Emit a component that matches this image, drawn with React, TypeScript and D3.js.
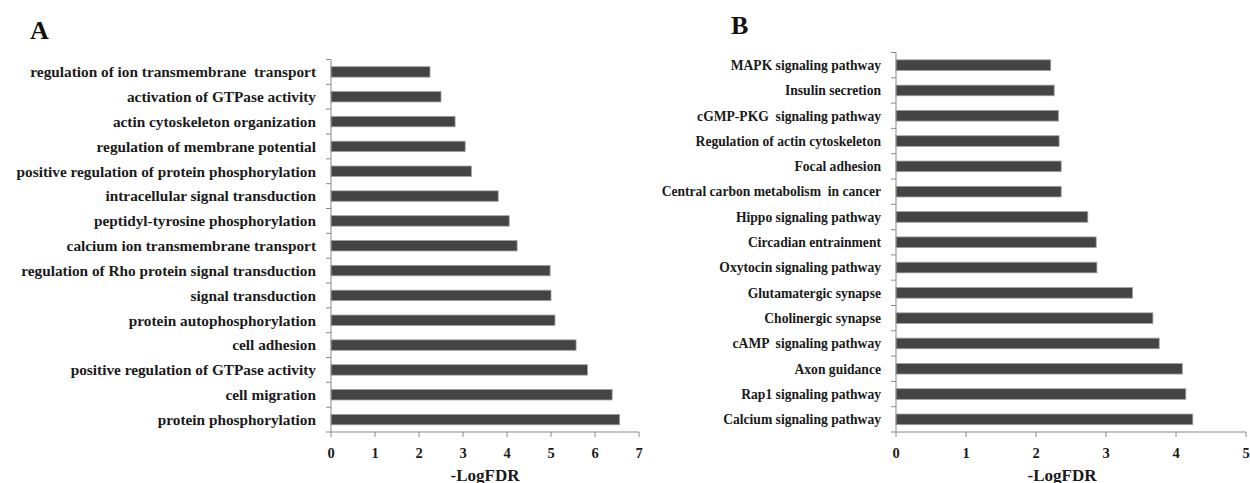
import React from "react";
import * as d3 from "d3";

const categoriesA = [
  "regulation of ion transmembrane  transport",
  "activation of GTPase activity",
  "actin cytoskeleton organization",
  "regulation of membrane potential",
  "positive regulation of protein phosphorylation",
  "intracellular signal transduction",
  "peptidyl-tyrosine phosphorylation",
  "calcium ion transmembrane transport",
  "regulation of Rho protein signal transduction",
  "signal transduction",
  "protein autophosphorylation",
  "cell adhesion",
  "positive regulation of GTPase activity",
  "cell migration",
  "protein phosphorylation",
];
const valuesA = [2.25, 2.5, 2.82, 3.05, 3.19, 3.8, 4.05, 4.23, 4.98, 5.0, 5.09, 5.57, 5.83, 6.39, 6.56];
const ticksA = [0, 1, 2, 3, 4, 5, 6, 7];

const categoriesB = [
  "MAPK signaling pathway",
  "Insulin secretion",
  "cGMP-PKG  signaling pathway",
  "Regulation of actin cytoskeleton",
  "Focal adhesion",
  "Central carbon metabolism  in cancer",
  "Hippo signaling pathway",
  "Circadian entrainment",
  "Oxytocin signaling pathway",
  "Glutamatergic synapse",
  "Cholinergic synapse",
  "cAMP  signaling pathway",
  "Axon guidance",
  "Rap1 signaling pathway",
  "Calcium signaling pathway",
];
const valuesB = [2.21, 2.26, 2.32, 2.33, 2.36, 2.36, 2.74, 2.86, 2.87, 3.38, 3.67, 3.76, 4.09, 4.14, 4.24];
const ticksB = [0, 1, 2, 3, 4, 5];

const axisTitle = "-LogFDR";
const FONT = "'Liberation Serif', 'Times New Roman', serif";
const AXIS_COLOR = "#8a8a8a";
const BAR_FILL = "#444444";
const BAR_STROKE = "#a0a0a0";

type PanelProps = {
  letter: string;
  letterX: number;
  letterY: number;
  categories: string[];
  values: number[];
  ticks: number[];
  x0: number;
  x1: number;
  y0: number;
  y1: number;
  labelSize: number;
  titleX: number;
};

function Panel(p: PanelProps) {
  const x = d3.scaleLinear().domain([p.ticks[0], p.ticks[p.ticks.length - 1]]).range([p.x0, p.x1]);
  const y = d3
    .scaleBand<string>()
    .domain(p.categories)
    .range([p.y0, p.y1])
    .paddingInner(0.58)
    .paddingOuter(0.29);
  const step = y.step();
  const boundaries = d3.range(p.categories.length + 1).map((i) => p.y0 + i * step);
  return (
    <g>
      <text x={p.letterX} y={p.letterY} fontFamily={FONT} fontWeight="bold" fontSize={26} fill="#111">
        {p.letter}
      </text>
      {p.categories.map((c, i) => (
        <rect
          key={c}
          x={x(0)}
          y={y(c)!}
          width={x(p.values[i]) - x(0)}
          height={y.bandwidth()}
          fill={BAR_FILL}
          stroke={BAR_STROKE}
          strokeWidth={0.8}
        />
      ))}
      <line x1={x(0)} x2={x(0)} y1={p.y0} y2={p.y1} stroke={AXIS_COLOR} strokeWidth={1} />
      <line x1={x(0)} x2={p.x1} y1={p.y1} y2={p.y1} stroke={AXIS_COLOR} strokeWidth={1} />
      {boundaries.map((b, i) => (
        <line key={i} x1={x(0) - 5} x2={x(0)} y1={b} y2={b} stroke={AXIS_COLOR} strokeWidth={1} />
      ))}
      {p.ticks.map((t) => (
        <g key={t}>
          <line x1={x(t)} x2={x(t)} y1={p.y1} y2={p.y1 + 5} stroke={AXIS_COLOR} strokeWidth={1} />
          <text
            x={x(t)}
            y={p.y1 + 26}
            textAnchor="middle"
            fontFamily={FONT}
            fontWeight="bold"
            fontSize={14.5}
            fill="#1a1a1a"
          >
            {t}
          </text>
        </g>
      ))}
      {p.categories.map((c) => (
        <text
          key={c}
          x={x(0) - 15}
          y={y(c)! + y.bandwidth() / 2}
          dy="0.35em"
          textAnchor="end"
          fontFamily={FONT}
          fontWeight="bold"
          fontSize={p.labelSize}
          fill="#1a1a1a"
          style={{ whiteSpace: "pre" }}
        >
          {c}
        </text>
      ))}
      <text
        x={p.titleX}
        y={p.y1 + 48.5}
        textAnchor="middle"
        fontFamily={FONT}
        fontWeight="bold"
        fontSize={17}
        fill="#1a1a1a"
      >
        {axisTitle}
      </text>
    </g>
  );
}

export default function App() {
  return (
    <svg
      width={1250}
      height={483}
      style={{ position: "absolute", left: 0, top: 0, background: "#fff" }}
    >
      <rect width={1250} height={483} fill="#fff" />
      <Panel
        letter="A"
        letterX={30}
        letterY={39}
        categories={categoriesA}
        values={valuesA}
        ticks={ticksA}
        x0={331}
        x1={639}
        y0={59.5}
        y1={432}
        labelSize={15.3}
        titleX={485}
      />
      <Panel
        letter="B"
        letterX={731}
        letterY={34}
        categories={categoriesB}
        values={valuesB}
        ticks={ticksB}
        x0={896}
        x1={1246}
        y0={52.5}
        y1={432}
        labelSize={13.6}
        titleX={1062}
      />
    </svg>
  );
}
